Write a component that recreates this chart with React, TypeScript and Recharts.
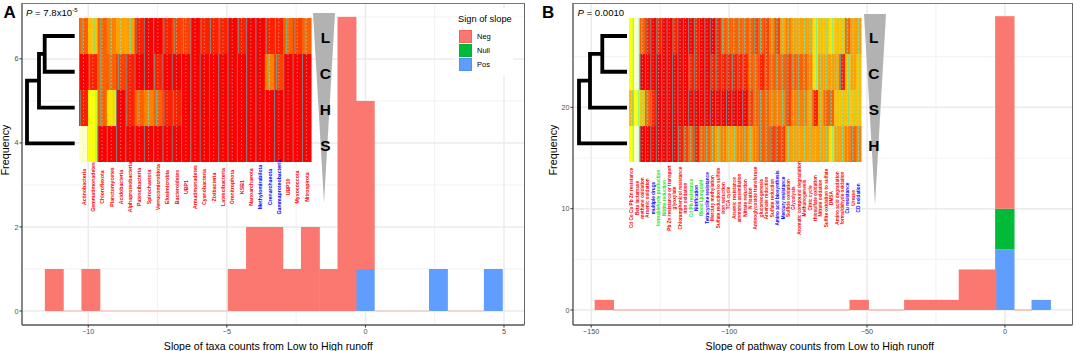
import {
  Bar,
  BarChart,
  CartesianGrid,
  ComposedChart,
  Funnel,
  FunnelChart,
  Label,
  Line,
  LineChart,
  ReferenceLine,
  XAxis,
  YAxis,
} from "recharts";

// histogram bins that hold at least one record
const taxaBins = [-11.22, -9.9, -4.62, -3.96, -3.3, -2.64, -1.98, -1.32, -0.66, 0, 2.64, 4.62];
const taxaNeg = [1, 1, 1, 2, 2, 1, 2, 1, 7, 4, 0, 0];
const taxaNull = [0, 0, 0, 0, 0, 0, 0, 0, 0, 0, 0, 0];
const taxaPos = [0, 0, 0, 0, 0, 0, 0, 0, 0, 1, 1, 1];
// runs of empty bins, which ggplot still outlines along zero
const taxaEmptyRuns = [[-10.9, -10.2], [-9.6, -4.95], [0.33, 2.31], [2.97, 4.29]];

const pathwayBins = [-145.2, -52.8, -33, -26.4, -19.8, -13.2, -6.6, 0, 13.2];
const pathwayNeg = [1, 1, 1, 1, 1, 4, 4, 19, 0];
const pathwayNull = [0, 0, 0, 0, 0, 0, 0, 4, 0];
const pathwayPos = [0, 0, 0, 0, 0, 0, 0, 6, 1];
const pathwayEmptyRuns = [[-141.9, -56.1], [-49.5, -36.3], [3.3, 9.9]];

// heatmap columns; sign: 0 = negative, 1 = null, 2 = positive
const taxaLabels = [
  "Actinobacteria", "Gemmatimonadetes", "Chloroflexota", "Planctomycetes", "Acidobacteria",
  "Alphaproteobacteria", "Patescibacteria", "Spirochaetota", "Verrucomicrobiota", "Elusimicrobia",
  "Bacteroidetes", "UBP1", "Armatimonadetes", "Cyanobacteria", "Zixibacteria", "Latescibacteria",
  "Omnitrophota", "KSB1", "Nanoarchaeota", "Methylomirabilota", "Crenarchaeota",
  "Gammaproteobacteria", "UBP10", "Myxococcota", "Nitrospirota",
];
const taxaSigns = [0, 0, 0, 0, 0, 0, 0, 0, 0, 0, 0, 0, 0, 0, 0, 0, 0, 0, 0, 2, 2, 2, 0, 0, 0];

const pathwayLabels = [
  "Cd Co Cu Pb Zn resistance", "Beta lactamase", "methane oxidation", "Arsenic oxidation",
  "multiple drugs", "formaldehyde production", "Nitrite reduction", "Pb Zn resistance or transport",
  "glyoxylate", "Chloramphenicol resistance", "iron oxidation", "Cd Pb resistance", "Nitrification",
  "Wood Ljungdahl", "Tetracycline resistance", "Mercury methylation", "Sulfate reduction to sulfide",
  "iron reduction", "TCA cycle", "Arsenic resistance", "ammonia assimilation", "Nitrate reduction",
  "N fixation", "Aminoglycoside transferase", "gluconeogenesis", "Arsenate reduction", "Sulfate reduction",
  "Amino acid biosynthesis", "Mercury resistance", "Sulfide oxidation", "Glycolysis",
  "Aromatic compound degradation", "Methanogenesis", "Citric cycle", "thiosulfate oxidation",
  "Nitrate oxidation", "Sulfite oxidation to sulfate", "DMSA", "Amino acid degradation",
  "formaldehyde oxidation", "Cu resistance", "Urease", "CO oxidation",
];
const pathwaySigns = [
  0, 0, 0, 0, 2, 1, 1, 0, 0, 0, 0, 1, 2, 1, 2, 0, 0, 0, 0, 0, 0, 0,
  0, 0, 0, 0, 0, 2, 2, 0, 0, 0, 0, 0, 0, 0, 0, 0, 0, 0, 2, 0, 2,
];

// heat levels: 0 = red ... 8 = yellow, 9 = cream
const taxaHeatL = [3, 6, 3, 4, 5, 5, 1, 0, 0, 1, 2, 2, 0, 1, 1, 1, 0, 1, 0, 0, 1, 1, 3, 2, 3];
const taxaHeatC = [0, 1, 3, 3, 2, 1, 0, 0, 1, 0, 0, 0, 0, 0, 0, 0, 0, 0, 0, 0, 4, 2, 0, 0, 0];
const taxaHeatH = [1, 8, 3, 7, 0, 1, 3, 4, 3, 1, 1, 0, 0, 0, 0, 0, 0, 0, 0, 0, 0, 0, 0, 0, 0];
const taxaHeatS = [9, 8, 0, 0, 0, 0, 0, 0, 0, 0, 0, 0, 0, 0, 0, 0, 0, 0, 0, 0, 0, 0, 0, 0, 0];

const pathwayHeatL = [8, 9, 3, 1, 0, 1, 0, 0, 1, 0, 0, 0, 1, 0, 0, 0, 1, 3, 3, 3, 3, 3, 3, 2, 3, 2, 4, 2, 5, 4, 5, 5, 5, 5, 7, 6, 6, 7, 6, 6, 3, 5, 5];
const pathwayHeatC = [8, 9, 0, 0, 0, 0, 0, 0, 0, 0, 0, 1, 1, 0, 0, 1, 1, 1, 1, 1, 1, 1, 3, 3, 1, 2, 3, 3, 3, 2, 3, 3, 3, 4, 7, 5, 5, 5, 5, 1, 6, 5, 6];
const pathwayHeatS = [6, 8, 6, 3, 1, 0, 0, 0, 0, 0, 0, 0, 0, 0, 0, 0, 0, 0, 0, 0, 0, 0, 2, 3, 3, 3, 4, 4, 4, 2, 4, 4, 4, 5, 1, 5, 3, 3, 6, 6, 6, 6, 6];
const pathwayHeatH = [8, 9, 0, 0, 0, 0, 0, 0, 0, 1, 2, 3, 1, 3, 3, 4, 5, 4, 5, 5, 4, 4, 5, 4, 3, 3, 2, 2, 2, 5, 5, 5, 5, 5, 5, 5, 5, 7, 5, 5, 4, 3, 4];

const heatColors = ["#ff0000", "#ff2000", "#ff4000", "#ff6000", "#ff8000", "#ffa000", "#ffc000", "#ffe000", "#ffff00", "#ffffcc"];

const signNames = ["Neg", "Null", "Pos"];
const signFills = ["#fb7870", "#00ba38", "#5f9eff"];
const signStrokes = ["#f7615a", "#00b336", "#4f90f7"];
const labelColors = ["#ff0000", "#1fe01f", "#0000ff"];

const font = "'Liberation Sans', Arial, sans-serif";

function minus(v: number) {
  return v < 0 ? `\u2212${-v}` : `${v}`;
}

function heatCell(levels: number[], colW: number) {
  return function Cell(p: any) {
    const level = levels[p.index];
    const mid = p.x + p.width / 2;
    const left = mid - colW / 2;
    const traceX = left + 0.5 + (level / 9) * (colW - 1);
    return (
      <g>
        <rect x={left} y={p.y} width={colW + 0.3} height={p.height} fill={heatColors[level]} />
        <line x1={traceX} x2={traceX} y1={p.y} y2={p.y + p.height} stroke="#00ffff" strokeOpacity={0.5} strokeWidth={1} />
        <line x1={mid} x2={mid} y1={p.y} y2={p.y + p.height} stroke="#a8ffe8" strokeOpacity={0.6} strokeWidth={1} strokeDasharray="1.2 2.4" />
      </g>
    );
  };
}

// recharts truncates bar widths to whole pixels, so neighbouring bins need widening to touch
function binBar(binW: number, fill: string) {
  return function BinBar(p: any) {
    if (!p.height) return null;
    return <rect x={p.x + p.width / 2 - binW / 2} y={p.y} width={binW} height={p.height} fill={fill} />;
  };
}

interface HeatProps {
  left: number;
  labels: string[];
  signs: number[];
  rows: string[];
  heat: number[][]; // top row first
  labelMid: number;
  labelSize: number;
  letterGap: number;
}

function HeatInset({ left, labels, signs, rows, heat, labelMid, labelSize, letterGap }: HeatProps) {
  const w = 232.4;
  const colW = w / labels.length;
  const chartData = labels.map((name) => ({ name }));
  const LabelTick = (p: any) => {
    const i = p.index;
    return (
      <text
        x={p.x}
        y={labelMid}
        transform={`rotate(-90 ${p.x} ${labelMid})`}
        textAnchor="middle"
        dominantBaseline="central"
        fontSize={labelSize}
        fontWeight="bold"
        fontFamily={font}
        fill={labelColors[signs[i]]}
      >
        {labels[i]}
      </text>
    );
  };
  const RowTick = (p: any) => (
    <text x={w + letterGap} y={p.y + 1.5} textAnchor="middle" dominantBaseline="central" fontSize={15.5} fontWeight="bold" fontFamily={font} fill="#000">
      {rows[3 - Math.floor(p.payload.value)]}
    </text>
  );
  return (
    <div style={{ position: "absolute", left, top: 18 }}>
      <BarChart width={w + 30} height={232} data={chartData} margin={{ top: 0, right: 0, bottom: 0, left: 0 }} barCategoryGap={0}>
        <XAxis dataKey="name" interval={0} height={88} tick={LabelTick} axisLine={false} tickLine={false} />
        <YAxis orientation="right" width={30} type="number" domain={[0, 4]} ticks={[0.5, 1.5, 2.5, 3.5]} axisLine={false} tickLine={false} tick={RowTick} />
        {[3, 2, 1, 0].map((r) => (
          <Bar key={rows[r]} dataKey={() => 1} name={rows[r]} stackId="rows" shape={heatCell(heat[r], colW)} isAnimationActive={false} />
        ))}
      </BarChart>
    </div>
  );
}

function Wedge({ left, top, height }: { left: number; top: number; height: number }) {
  return (
    <div style={{ position: "absolute", left, top }}>
      <FunnelChart width={22} height={height} margin={{ top: 0, right: 0, bottom: 0, left: 0 }}>
        <Funnel data={[{ value: 1, fill: "#b2b2b2" }]} dataKey="value" lastShapeType="triangle" stroke="none" isAnimationActive={false} />
      </FunnelChart>
    </div>
  );
}

function Dendrogram({ left, merges }: { left: number; merges: number[] }) {
  const [h1, h2, h3] = merges;
  const clades = [
    [{ h: 0, row: 0 }, { h: h1, row: 0 }, { h: h1, row: 1 }, { h: 0, row: 1 }],
    [{ h: h1, row: 0.5 }, { h: h2, row: 0.5 }, { h: h2, row: 2 }, { h: 0, row: 2 }],
    [{ h: h2, row: 1.25 }, { h: h3, row: 1.25 }, { h: h3, row: 3 }, { h: 0, row: 3 }],
  ];
  return (
    <div style={{ position: "absolute", left, top: 31.7 }}>
      <LineChart width={h3 + 4} height={115.3} margin={{ top: 4, right: 0, bottom: 4, left: 4 }}>
        <XAxis hide type="number" dataKey="h" domain={[0, h3]} reversed />
        <YAxis hide type="number" domain={[0, 3]} reversed />
        {clades.map((c, i) => (
          <Line key={i} data={c} dataKey="row" stroke="#000" strokeWidth={3.8} dot={false} strokeLinejoin="miter" strokeLinecap="butt" isAnimationActive={false} />
        ))}
      </LineChart>
    </div>
  );
}

interface HistProps {
  left: number;
  width: number;
  plotLeft: number;
  plotRight: number;
  bins: number[];
  neg: number[];
  nul: number[];
  pos: number[];
  xDomain: number[];
  yDomain: number[];
  xMajor: number[];
  xMinor: number[];
  yMajor: number[];
  yMinor: number[];
  binW: number;
  emptyRuns: number[][];
  emptyColor: string;
  emptyWidth: number;
  title: string;
  titleDx: number;
  freqDx: number;
}

function Histogram(props: HistProps) {
  const { left, width, plotLeft, plotRight, bins, neg, nul, pos, xDomain, yDomain, xMajor, xMinor, yMajor, yMinor, binW, emptyRuns, emptyColor, emptyWidth, title, titleDx, freqDx } = props;
  const table = bins.map((bin, i) => ({ bin, neg: neg[i], nul: nul[i], pos: pos[i] }));
  const tickStyle = { fontSize: 7.2, fill: "#4d4d4d", fontFamily: font };
  return (
    <div style={{ position: "absolute", left, top: 0 }}>
      <ComposedChart width={width} height={351} data={table} margin={{ top: 3, right: width - plotRight, bottom: 0, left: 0 }}>
        <CartesianGrid horizontalValues={yMinor} verticalValues={xMinor} stroke="#f1f1f1" strokeWidth={0.9} />
        <CartesianGrid horizontalValues={yMajor} verticalValues={xMajor} stroke="#ebebeb" strokeWidth={1.5} />
        <XAxis
          type="number"
          dataKey="bin"
          domain={xDomain}
          ticks={xMajor}
          allowDataOverflow
          height={26}
          tickFormatter={minus}
          tick={tickStyle}
          tickSize={2.5}
          tickMargin={1}
          stroke="#555"
          strokeWidth={1.4}
          tickLine={{ stroke: "#333", strokeWidth: 1 }}
        >
          <Label value={title} position="insideBottom" offset={0} dx={titleDx} dy={-1} style={{ fontSize: 10.6, fill: "#000", fontFamily: font }} />
        </XAxis>
        <YAxis
          type="number"
          domain={yDomain}
          ticks={yMajor}
          allowDataOverflow
          width={plotLeft}
          tick={tickStyle}
          tickSize={2.5}
          tickMargin={1}
          stroke="#555"
          strokeWidth={1.4}
          tickLine={{ stroke: "#333", strokeWidth: 1 }}
        >
          <Label value="Frequency" angle={-90} position="insideLeft" offset={0} dx={freqDx} dy={-14} style={{ fontSize: 10.8, fill: "#000", fontFamily: font, textAnchor: "middle" }} />
        </YAxis>
        <Bar dataKey="pos" stackId="s" barSize={18} shape={binBar(binW, signFills[2])} isAnimationActive={false} />
        <Bar dataKey="nul" stackId="s" barSize={18} shape={binBar(binW, signFills[1])} isAnimationActive={false} />
        <Bar dataKey="neg" stackId="s" barSize={18} shape={binBar(binW, signFills[0])} isAnimationActive={false} />
        {emptyRuns.map((run) => (
          <ReferenceLine key={run[0]} segment={[{ x: run[0], y: 0 }, { x: run[1], y: 0 }]} stroke={emptyColor} strokeWidth={emptyWidth} />
        ))}
      </ComposedChart>
      <div style={{ position: "absolute", left: plotLeft, top: 3, width: plotRight - plotLeft, height: 322, borderTop: "1.4px solid #777", borderRight: "1.4px solid #666", boxSizing: "border-box", pointerEvents: "none" }} />
    </div>
  );
}

function SignLegend() {
  return (
    <div style={{ position: "absolute", left: 455, top: 8, width: 58, height: 67, background: "#fff", fontFamily: font }}>
      <div style={{ position: "absolute", left: 3, top: 6, fontSize: 9.3, color: "#000", whiteSpace: "nowrap" }}>Sign of slope</div>
      {signNames.map((name, i) => (
        <div key={name}>
          <div style={{ position: "absolute", left: 3.5, top: 21.5 + i * 14.2, width: 13, height: 13, boxSizing: "border-box", background: signFills[i], border: `0.8px solid ${signStrokes[i]}` }} />
          <div style={{ position: "absolute", left: 22, top: 23.5 + i * 14.2, fontSize: 7.5, color: "#000" }}>{name}</div>
        </div>
      ))}
    </div>
  );
}

function TextAt({ x, y, size, bold, children }: { x: number; y: number; size: number; bold?: boolean; children: any }) {
  return (
    <div style={{ position: "absolute", left: x, top: y, fontSize: size, fontWeight: bold ? "bold" : "normal", fontFamily: font, color: "#000", whiteSpace: "nowrap", lineHeight: 1 }}>
      {children}
    </div>
  );
}

export default function App() {
  return (
    <div style={{ position: "absolute", left: 0, top: 0, width: 1074, height: 351, background: "#fff", overflow: "hidden" }}>
      <Histogram
        left={0}
        width={540}
        plotLeft={22}
        plotRight={524.5}
        bins={taxaBins}
        neg={taxaNeg}
        nul={taxaNull}
        pos={taxaPos}
        xDomain={[-12.39, 5.74]}
        yDomain={[-0.333, 7.33]}
        xMajor={[-10, -5, 0, 5]}
        xMinor={[-7.5, -2.5, 2.5]}
        yMajor={[0, 2, 4, 6]}
        yMinor={[1, 3, 5, 7]}
        binW={18.9}
        emptyRuns={taxaEmptyRuns}
        emptyColor="#f5cdca"
        emptyWidth={1.6}
        title="Slope of taxa counts from Low to High runoff"
        titleDx={-5}
        freqDx={5}
      />
      <Histogram
        left={540}
        width={534}
        plotLeft={33}
        plotRight={532.5}
        bins={pathwayBins}
        neg={pathwayNeg}
        nul={pathwayNull}
        pos={pathwayPos}
        xDomain={[-156.6, 24.5]}
        yDomain={[-1.48, 30.3]}
        xMajor={[-150, -100, -50, 0]}
        xMinor={[-125, -75, -25]}
        yMajor={[0, 10, 20]}
        yMinor={[5, 15, 25]}
        binW={19.4}
        emptyRuns={pathwayEmptyRuns}
        emptyColor="#ff9f99"
        emptyWidth={1}
        title="Slope of pathway counts from Low to High runoff"
        titleDx={-3}
        freqDx={13}
      />

      <SignLegend />

      <Wedge left={313.3} top={13.3} height={190} />
      <Wedge left={863.5} top={14} height={191} />

      <HeatInset left={78.7} labels={taxaLabels} signs={taxaSigns} rows={["L", "C", "H", "S"]} heat={[taxaHeatL, taxaHeatC, taxaHeatH, taxaHeatS]} labelMid={169} labelSize={5.2} letterGap={14} />
      <HeatInset left={629.3} labels={pathwayLabels} signs={pathwaySigns} rows={["L", "C", "S", "H"]} heat={[pathwayHeatL, pathwayHeatC, pathwayHeatS, pathwayHeatH]} labelMid={180} labelSize={4.7} letterGap={12.4} />

      <Dendrogram left={23.3} merges={[30, 35.7, 47.7]} />
      <Dendrogram left={574.7} merges={[24.7, 37, 48]} />

      <TextAt x={3.5} y={3.5} size={17} bold>A</TextAt>
      <TextAt x={542} y={3.5} size={17} bold>B</TextAt>
      <TextAt x={26} y={8} size={9.6}>
        <i>P</i> = 7.8x10<sup style={{ fontSize: 6, lineHeight: 0 }}>-5</sup>
      </TextAt>
      <TextAt x={577.5} y={7.5} size={9.6}>
        <i>P</i> = 0.0010
      </TextAt>
    </div>
  );
}
